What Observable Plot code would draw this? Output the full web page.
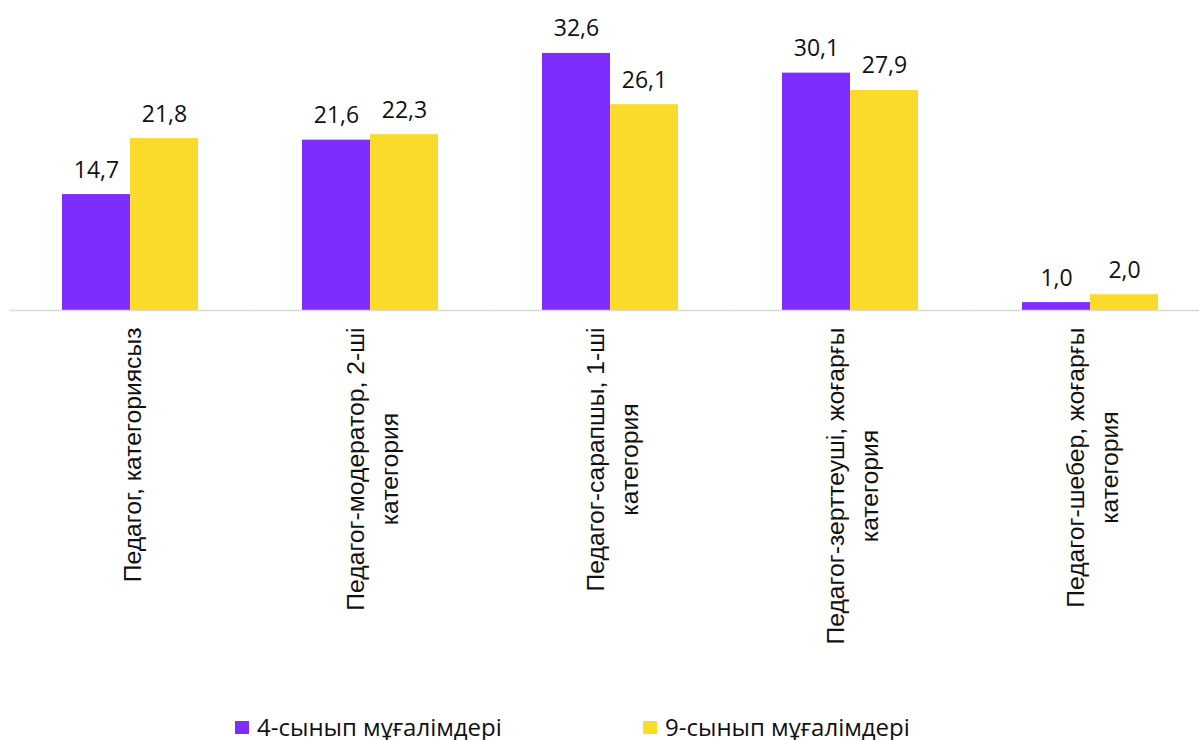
<!DOCTYPE html>
<html>
<head>
<meta charset="utf-8">
<script src="https://cdn.jsdelivr.net/npm/d3@7"></script>
<script src="https://cdn.jsdelivr.net/npm/@observablehq/plot@0.6"></script>
<style>
  body { margin: 0; background: #fff; overflow: hidden; }
  #chart svg { overflow: visible; display: block; }
  .legend { position: relative; height: 60px; font-family: "Open Sans", sans-serif; font-size: 24px; color: #111; }
  .legend .item { position: absolute; top: 36px; height: 22px; line-height: 22px; display: flex; align-items: center; white-space: nowrap; }
  .legend .sw { width: 14px; height: 13px; margin-right: 8px; }
</style>
</head>
<body>
<div id="chart"></div>
<script>
const categories = [
  "Педагог, категориясыз",
  "Педагог-модератор, 2-ші\nкатегория",
  "Педагог-сарапшы, 1-ші\nкатегория",
  "Педагог-зерттеуші, жоғарғы\nкатегория",
  "Педагог-шебер, жоғарғы\nкатегория"
];
const series = ["4-сынып мұғалімдері", "9-сынып мұғалімдері"];
const grade4 = [14.7, 21.6, 32.6, 30.1, 1.0];
const grade9 = [21.8, 22.3, 26.1, 27.9, 2.0];
const colors = ["#7f2cff", "#fadb2b"];

const table = [];
categories.forEach((c, i) => {
  table.push({category: c, series: series[0], value: grade4[i]});
  table.push({category: c, series: series[1], value: grade9[i]});
});
const fmt = v => v.toFixed(1).replace(".", ",");

const plot = Plot.plot({
  width: 1199,
  height: 680,
  marginTop: 34,
  marginBottom: 370,
  marginLeft: 8,
  marginRight: -12,
  fx: {domain: categories, paddingInner: 0.43, paddingOuter: 0.215, axis: null},
  x: {domain: series, padding: 0, axis: null},
  y: {domain: [0, 35], axis: null},
  color: {domain: series, range: colors},
  marks: [
    Plot.barY(table, {fx: "category", x: "series", y: "value", fill: "series"}),
    Plot.ruleY([0], {stroke: "#d9d9d9", strokeWidth: 1.5, insetLeft: -51.5, insetRight: -51.5}),
    Plot.text(table, {fx: "category", x: "series", y: "value", text: d => fmt(d.value),
      lineAnchor: "bottom", dy: -17, fontSize: 23, fontFamily: "Open Sans", fill: "#111"}),
    Plot.text(categories, {fx: d => d, y: () => 0, text: d => d, rotate: -90, textAnchor: "end",
      lineAnchor: "middle", lineHeight: 1.38, dy: 17, fontSize: 24.7, fontFamily: "Liberation Sans", fill: "#111"})
  ]
});
document.getElementById("chart").append(plot);

// center multi-line rotated category labels relative to their longest line
plot.querySelectorAll("text[transform*='rotate']").forEach(t => {
  const spans = t.querySelectorAll("tspan");
  if (spans.length < 2) return;
  const L = d3.max(Array.from(spans), s => s.getComputedTextLength());
  t.setAttribute("text-anchor", "middle");
  t.style.textAnchor = "middle";
  spans.forEach(s => s.setAttribute("x", -L / 2));
});

const legend = document.createElement("div");
legend.className = "legend";
const legendLeft = [235, 643];
series.forEach((s, i) => {
  const item = document.createElement("div");
  item.className = "item";
  item.style.left = legendLeft[i] + "px";
  const sw = document.createElement("span");
  sw.className = "sw";
  sw.style.background = colors[i];
  const lab = document.createElement("span");
  lab.textContent = s;
  item.append(sw, lab);
  legend.append(item);
});
document.body.append(legend);
</script>
</body>
</html>
